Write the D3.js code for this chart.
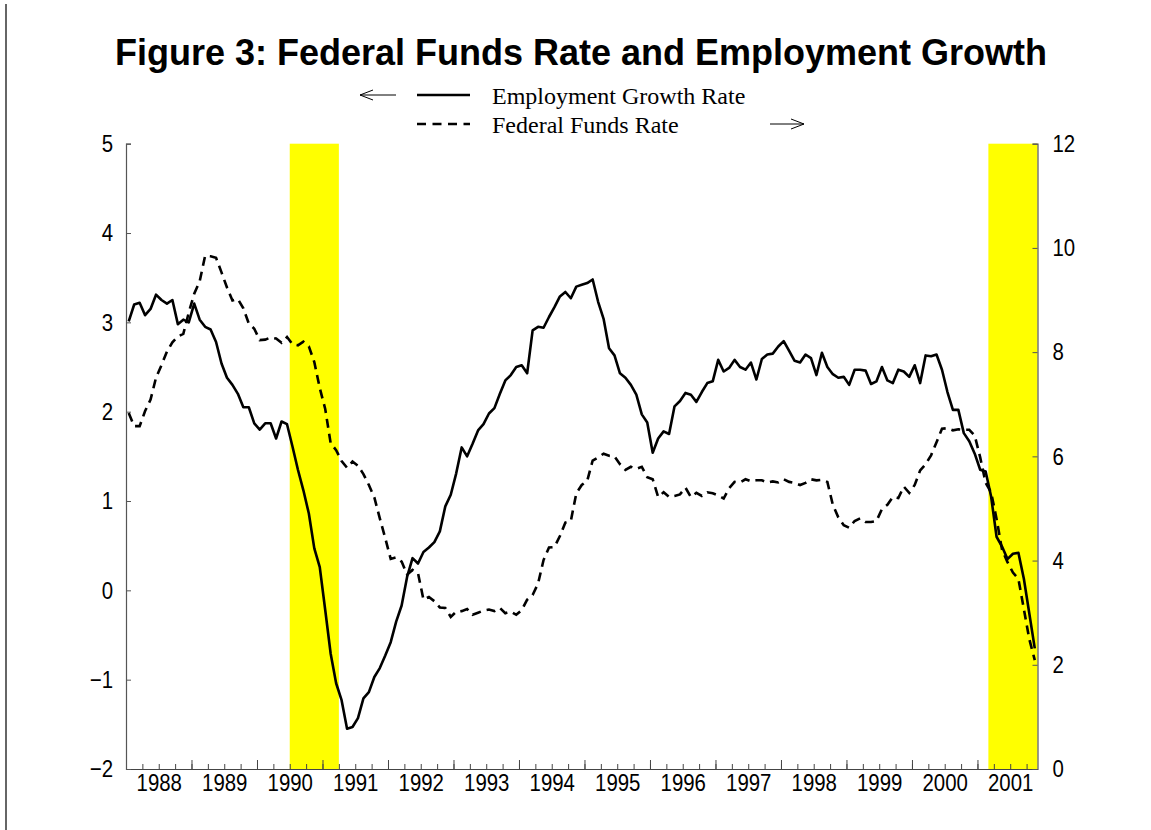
<!DOCTYPE html>
<html>
<head>
<meta charset="utf-8">
<script src="https://cdn.jsdelivr.net/npm/d3@7/dist/d3.min.js"></script>
<style>
  body { margin: 0; background: #fff; }
  .tick text { font-family: "Liberation Sans", Arial, sans-serif; font-size: 24px; fill: #000; }
</style>
</head>
<body>
<div id="my_dataviz"></div>
<script>
var width = 1151
var height = 830

// monthly data, Jan 1988 - Nov 2001
var startYear = 1988
var years = [1988, 1989, 1990, 1991, 1992, 1993, 1994, 1995, 1996, 1997, 1998, 1999, 2000, 2001]

// employment growth rate (left axis, %)
var employment = [
    3.01, 3.20, 3.22, 3.08, 3.15, 3.31, 3.25, 3.21, 3.25, 2.98, 3.03, 3.00,
    3.21, 3.03, 2.95, 2.92, 2.78, 2.54, 2.38, 2.30, 2.20, 2.05, 2.05, 1.87,
    1.80, 1.87, 1.87, 1.70, 1.89, 1.86, 1.61, 1.35, 1.12, 0.86, 0.47, 0.26,
    -0.22, -0.71, -1.04, -1.23, -1.55, -1.53, -1.43, -1.21, -1.14, -0.97, -0.87, -0.73,
    -0.58, -0.35, -0.17, 0.15, 0.36, 0.30, 0.43, 0.48, 0.54, 0.66, 0.94, 1.07,
    1.31, 1.60, 1.50, 1.64, 1.79, 1.86, 1.98, 2.04, 2.20, 2.35, 2.41, 2.50,
    2.52, 2.43, 2.91, 2.95, 2.94, 3.06, 3.17, 3.29, 3.34, 3.27, 3.40, 3.42,
    3.44, 3.48, 3.23, 3.04, 2.71, 2.63, 2.43, 2.38, 2.30, 2.19, 1.97, 1.88,
    1.54, 1.70, 1.78, 1.75, 2.06, 2.12, 2.21, 2.19, 2.11, 2.22, 2.32, 2.34,
    2.58, 2.45, 2.49, 2.58, 2.50, 2.47, 2.55, 2.36, 2.59, 2.64, 2.65, 2.73,
    2.79, 2.68, 2.57, 2.55, 2.64, 2.60, 2.41, 2.66, 2.50, 2.42, 2.38, 2.39,
    2.30, 2.47, 2.47, 2.46, 2.31, 2.34, 2.50, 2.35, 2.32, 2.47, 2.45, 2.39,
    2.52, 2.32, 2.63, 2.62, 2.64, 2.47, 2.22, 2.02, 2.02, 1.76, 1.67, 1.53,
    1.35, 1.33, 1.05, 0.60, 0.49, 0.35, 0.41, 0.42, 0.13, -0.26, -0.65
]

// federal funds rate (right axis, %)
var fedfunds = [
    6.83, 6.58, 6.58, 6.87, 7.09, 7.51, 7.75, 8.01, 8.19, 8.30, 8.35, 8.76,
    9.12, 9.36, 9.85, 9.84, 9.81, 9.53, 9.24, 8.99, 9.02, 8.84, 8.55, 8.45,
    8.23, 8.24, 8.28, 8.26, 8.18, 8.29, 8.15, 8.13, 8.20, 8.11, 7.81, 7.31,
    6.91, 6.25, 6.12, 5.91, 5.78, 5.90, 5.82, 5.66, 5.45, 5.21, 4.81, 4.43,
    4.03, 4.06, 3.98, 3.73, 3.82, 3.76, 3.25, 3.30, 3.22, 3.10, 3.09, 2.92,
    3.02, 3.03, 3.07, 2.96, 3.00, 3.04, 3.06, 3.03, 3.09, 2.99, 3.02, 2.96,
    3.05, 3.25, 3.34, 3.56, 4.01, 4.25, 4.26, 4.47, 4.73, 4.76, 5.29, 5.45,
    5.53, 5.92, 5.98, 6.05, 6.01, 6.00, 5.85, 5.74, 5.80, 5.76, 5.80, 5.60,
    5.56, 5.22, 5.31, 5.22, 5.24, 5.27, 5.40, 5.22, 5.30, 5.24, 5.31, 5.29,
    5.25, 5.19, 5.39, 5.51, 5.50, 5.56, 5.52, 5.54, 5.54, 5.50, 5.52, 5.50,
    5.56, 5.51, 5.49, 5.45, 5.49, 5.56, 5.54, 5.55, 5.51, 5.07, 4.83, 4.68,
    4.63, 4.76, 4.81, 4.74, 4.74, 4.76, 4.99, 5.07, 5.22, 5.20, 5.42, 5.30,
    5.45, 5.73, 5.85, 6.02, 6.27, 6.53, 6.54, 6.50, 6.52, 6.51, 6.51, 6.40,
    5.98, 5.49, 5.31, 4.80, 4.21, 3.97, 3.77, 3.65, 3.07, 2.49, 2.09
]

// recessions (shaded), in decimal years
var recessions = [[1990.5, 1991.25], [2001 + 2 / 12, 2001 + 11 / 12]]

var leftTicks = [-2, -1, 0, 1, 2, 3, 4, 5]
var rightTicks = [0, 2, 4, 6, 8, 10, 12]

var svg = d3.select("#my_dataviz")
    .append("svg")
    .attr("width", width)
    .attr("height", height)

var x = d3.scaleLinear()
    .domain([1988, 2001 + 11 / 12])
    .range([126, 1037.5])
var yL = d3.scaleLinear().domain([-2, 5]).range([769, 143.7])
var yR = d3.scaleLinear().domain([0, 12]).range([769, 143.7])

// month middle
function mx(i) { return x(startYear + (i + 0.5) / 12) }

// squeeze tick labels a bit (narrow face in the original)
function narrow(sel) {
    sel.selectAll(".tick text").each(function () {
        var w = this.getComputedTextLength()
        d3.select(this).attr("textLength", w * 0.85).attr("lengthAdjust", "spacingAndGlyphs")
    })
}

// frame line on the left
svg.append("line")
    .attr("x1", 6).attr("x2", 6).attr("y1", 4).attr("y2", 830)
    .attr("stroke", "#333").attr("stroke-width", 1.5)

// recession bands
svg.append("g")
    .selectAll("rect")
    .data(recessions)
    .enter()
    .append("rect")
    .attr("x", function (d) { return x(d[0]) })
    .attr("width", function (d) { return x(d[1]) - x(d[0]) })
    .attr("y", yL(5))
    .attr("height", yL(-2) - yL(5))
    .attr("fill", "#ffff00")

// axes
var quarters = []
years.forEach(function (y) { [0.25, 0.5, 0.75, 1].forEach(function (q) { if (y + q < 2001.92) quarters.push(y + q) }) })

svg.append("g")
    .attr("transform", "translate(0," + yL(-2) + ")")
    .call(d3.axisBottom(x).tickValues(quarters).tickSize(-5).tickFormat(""))
    .call(function (g) { g.select(".domain").remove() })
    .selectAll("line").attr("stroke", "#444")

svg.append("g")
    .attr("transform", "translate(0," + yL(-2) + ")")
    .call(d3.axisBottom(x).tickValues(years.slice(1)).tickSize(-9).tickFormat(""))
    .call(function (g) { g.select(".domain").remove() })
    .selectAll("line").attr("stroke", "#444")

var xLabels = svg.append("g")
    .attr("transform", "translate(0," + yL(-2) + ")")
    .call(d3.axisBottom(x).tickValues(years.map(function (y) { return y + 0.5 }))
        .tickSize(0).tickPadding(5).tickFormat(function (d) { return Math.floor(d) }))
    .call(narrow)
xLabels.select(".domain").attr("stroke", "#444")

var leftAxis = svg.append("g")
    .attr("transform", "translate(" + x.range()[0] + ",0)")
    .call(d3.axisLeft(yL).tickValues(leftTicks).tickSize(-5).tickPadding(13).tickFormat(d3.format("d")))
    .call(narrow)
leftAxis.selectAll("path, line").attr("stroke", "#555")

var rightAxis = svg.append("g")
    .attr("transform", "translate(" + x.range()[1] + ",0)")
    .call(d3.axisRight(yR).tickValues(rightTicks).tickSize(-5).tickPadding(15).tickFormat(d3.format("d")))
    .call(narrow)
rightAxis.selectAll("path, line").attr("stroke", "#555")

svg.selectAll(".domain").attr("stroke-width", 1.2)

// lines
var empLine = d3.line()
    .x(function (d, i) { return mx(i) })
    .y(function (d) { return yL(d) })
var ffLine = d3.line()
    .x(function (d, i) { return mx(i) })
    .y(function (d) { return yR(d) })

svg.append("path")
    .datum(fedfunds)
    .attr("d", ffLine)
    .attr("fill", "none")
    .attr("stroke", "#000")
    .attr("stroke-width", 2.6)
    .attr("stroke-dasharray", "9,6")

svg.append("path")
    .datum(employment)
    .attr("d", empLine)
    .attr("fill", "none")
    .attr("stroke", "#000")
    .attr("stroke-width", 2.6)
    .attr("stroke-linejoin", "round")

// title
svg.append("text")
    .attr("x", 581)
    .attr("y", 65)
    .attr("text-anchor", "middle")
    .style("font-family", "'Liberation Sans', Arial, sans-serif")
    .style("font-weight", "bold")
    .style("font-size", "36px")
    .text("Figure 3: Federal Funds Rate and Employment Growth")

// legend
var legend = svg.append("g")
function arrow(x1, x2, yy) {
    var dir = x2 > x1 ? 1 : -1
    legend.append("path")
        .attr("d", "M" + x1 + "," + yy + "H" + x2 +
            "M" + (x2 - dir * 13) + "," + (yy - 5) + "L" + x2 + "," + yy + "L" + (x2 - dir * 13) + "," + (yy + 5))
        .attr("fill", "none").attr("stroke", "#000").attr("stroke-width", 1)
}
arrow(396, 360, 95)
arrow(770, 804, 124)

legend.append("line")
    .attr("x1", 417).attr("x2", 470).attr("y1", 95).attr("y2", 95)
    .attr("stroke", "#000").attr("stroke-width", 2.6)
legend.append("line")
    .attr("x1", 417).attr("x2", 470).attr("y1", 124).attr("y2", 124)
    .attr("stroke", "#000").attr("stroke-width", 2.6)
    .attr("stroke-dasharray", "9,6.5")

legend.selectAll("text.lab")
    .data(["Employment Growth Rate", "Federal Funds Rate"])
    .enter()
    .append("text")
    .attr("class", "lab")
    .attr("x", 492)
    .attr("y", function (d, i) { return 104 + i * 29 })
    .style("font-family", "'Liberation Serif', 'Times New Roman', serif")
    .style("font-size", "24px")
    .text(function (d) { return d })
</script>
</body>
</html>
